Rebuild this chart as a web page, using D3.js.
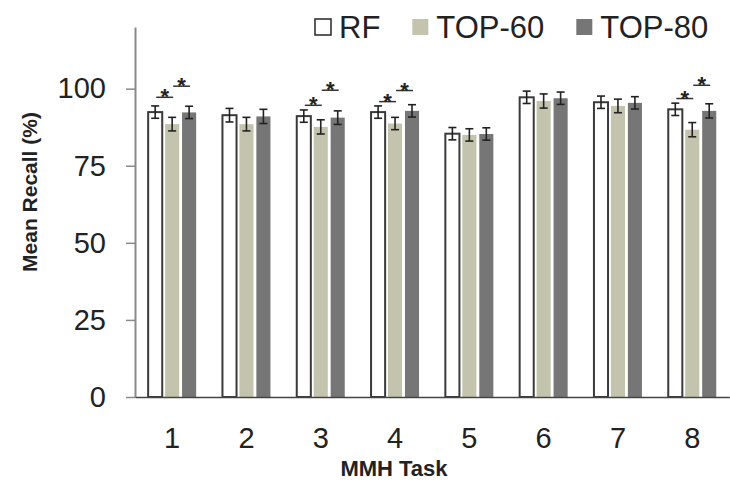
<!DOCTYPE html>
<html>
<head>
<meta charset="utf-8">
<script src="https://cdn.jsdelivr.net/npm/d3@7/dist/d3.min.js"></script>
<style>
  html, body { margin: 0; padding: 0; background: #fff; }
  svg { display: block; }
  text { font-family: "Liberation Sans", Arial, sans-serif; }
</style>
</head>
<body>
<svg id="chart" width="730" height="495"></svg>
<script>
// Mean recall per MMH task for three feature-selection settings
const tasks = ["1", "2", "3", "4", "5", "6", "7", "8"];
const seriesNames = ["RF", "TOP-60", "TOP-80"];
const rfMean    = [92.4, 91.4, 91.1, 92.4, 85.4, 97.2, 95.6, 93.3];
const top60Mean = [88.5, 88.5, 87.6, 88.7, 85.0, 96.0, 94.4, 86.7];
const top80Mean = [92.3, 91.0, 90.6, 92.8, 85.3, 96.9, 95.4, 92.8];
const rfErr     = [2.0, 2.2, 2.0, 2.0, 2.0, 2.0, 2.0, 2.0];
const top60Err  = [2.2, 2.2, 2.3, 2.0, 2.0, 2.3, 2.2, 2.3];
const top80Err  = [2.0, 2.3, 2.2, 2.0, 2.0, 2.0, 2.0, 2.3];
const yTicks = [0, 25, 50, 75, 100];
// Significant pairwise differences: task, series pair, bracket height (%)
const sigTask  = ["1", "1", "3", "3", "4", "4", "8", "8"];
const sigFrom  = ["RF", "TOP-60", "RF", "TOP-60", "RF", "TOP-60", "RF", "TOP-60"];
const sigTo    = ["TOP-60", "TOP-80", "TOP-60", "TOP-80", "TOP-60", "TOP-80", "TOP-60", "TOP-80"];
const sigLevel = [97.2, 100.8, 94.6, 99.5, 95.8, 99.4, 96.8, 101.1];

const fills = { "RF": "#ffffff", "TOP-60": "#c4c4ae", "TOP-80": "#767676" };

const rows = [];
seriesNames.forEach((s, si) => {
  const means = [rfMean, top60Mean, top80Mean][si];
  const errs = [rfErr, top60Err, top80Err][si];
  tasks.forEach((t, i) => rows.push({ task: t, series: s, value: means[i], err: errs[i] }));
});

const svg = d3.select("#chart");
const margin = { left: 135, right: 0.6, top: 27, bottom: 98 };
const W = 730, H = 495;

const y = d3.scaleLinear().domain([0, 120]).range([H - margin.bottom, margin.top]);
const x0 = d3.scaleBand().domain(tasks)
  .range([margin.left, W - margin.right])
  .paddingInner(0.354).paddingOuter(0.177);
const x1 = d3.scaleBand().domain(seriesNames)
  .range([0, x0.bandwidth()]).paddingInner(0.17);

// y axis
const yAxis = svg.append("g")
  .attr("transform", `translate(${margin.left},0)`)
  .call(d3.axisLeft(y).tickValues(yTicks).tickSize(9).tickSizeOuter(0).tickPadding(20));
yAxis.select(".domain").attr("stroke", "#8a8a8a").attr("stroke-width", 2);
yAxis.selectAll(".tick line").attr("stroke", "#8a8a8a").attr("stroke-width", 1.5);
yAxis.selectAll(".tick text").attr("fill", "#222").style("font-size", "29px");

// bars
const bars = svg.append("g");
bars.selectAll("rect").data(rows).join("rect")
  .attr("x", d => x0(d.task) + x1(d.series))
  .attr("y", d => y(d.value))
  .attr("width", x1.bandwidth())
  .attr("height", d => y(0) - y(d.value))
  .attr("fill", d => fills[d.series])
  .attr("stroke", d => d.series === "RF" ? "#3a3a3a" : "none")
  .attr("stroke-width", 2);

// error bars
const eb = svg.append("g").attr("stroke", "#222").attr("stroke-width", 1.6);
rows.forEach(d => {
  const cx = x0(d.task) + x1(d.series) + x1.bandwidth() / 2;
  eb.append("line").attr("x1", cx).attr("x2", cx).attr("y1", y(d.value + d.err)).attr("y2", y(d.value - d.err));
  [d.value + d.err, d.value - d.err].forEach(v =>
    eb.append("line").attr("x1", cx - 4).attr("x2", cx + 4).attr("y1", y(v)).attr("y2", y(v)));
});

// x axis
const xAxis = svg.append("g")
  .attr("transform", `translate(0,${y(0)})`)
  .call(d3.axisBottom(x0).tickSize(0).tickSizeOuter(0).tickPadding(30));
xAxis.select(".domain").attr("stroke", "#444").attr("stroke-width", 1.5);
xAxis.selectAll(".tick text").attr("fill", "#222").style("font-size", "29px");

// significance brackets
const sig = svg.append("g");
sigTask.forEach((t, i) => {
  const xa = x0(t) + x1(sigFrom[i]) + x1.bandwidth() / 2 + 1;
  const xb = x0(t) + x1(sigTo[i]) + x1.bandwidth() / 2 + 1;
  const ly = y(sigLevel[i]);
  sig.append("line").attr("x1", xa).attr("x2", xb).attr("y1", ly).attr("y2", ly)
    .attr("stroke", "#333").attr("stroke-width", 1.5);
  sig.append("text").attr("x", (xa + xb) / 2).attr("y", ly + 7)
    .attr("text-anchor", "middle").style("font-size", "22px").style("font-weight", "bold")
    .attr("fill", "#222").text("*");
});

// axis titles
svg.append("text")
  .attr("transform", `translate(37,${(y(0) + y(120)) / 2 - 20}) rotate(-90)`)
  .attr("text-anchor", "middle").style("font-size", "21px").style("font-weight", "bold")
  .attr("fill", "#222").text("Mean Recall (%)");
svg.append("text")
  .attr("x", 394).attr("y", 476)
  .attr("text-anchor", "middle").style("font-size", "22px").style("font-weight", "bold")
  .attr("fill", "#222").text("MMH Task");

// legend
const legend = svg.append("g").attr("transform", "translate(315,0)");
let lx = 0;
seriesNames.forEach(s => {
  const g = legend.append("g").attr("transform", `translate(${lx},0)`);
  g.append("rect").attr("x", 0).attr("y", 19).attr("width", 16).attr("height", 16)
    .attr("fill", s === "RF" ? "#fff" : fills[s])
    .attr("stroke", s === "RF" ? "#333" : "none").attr("stroke-width", 1.6);
  const t = g.append("text").attr("x", 24).attr("y", 38)
    .style("font-size", "31px").attr("fill", "#222").text(s);
  lx += 24 + t.node().getComputedTextLength() + 32;
});
</script>
</body>
</html>
